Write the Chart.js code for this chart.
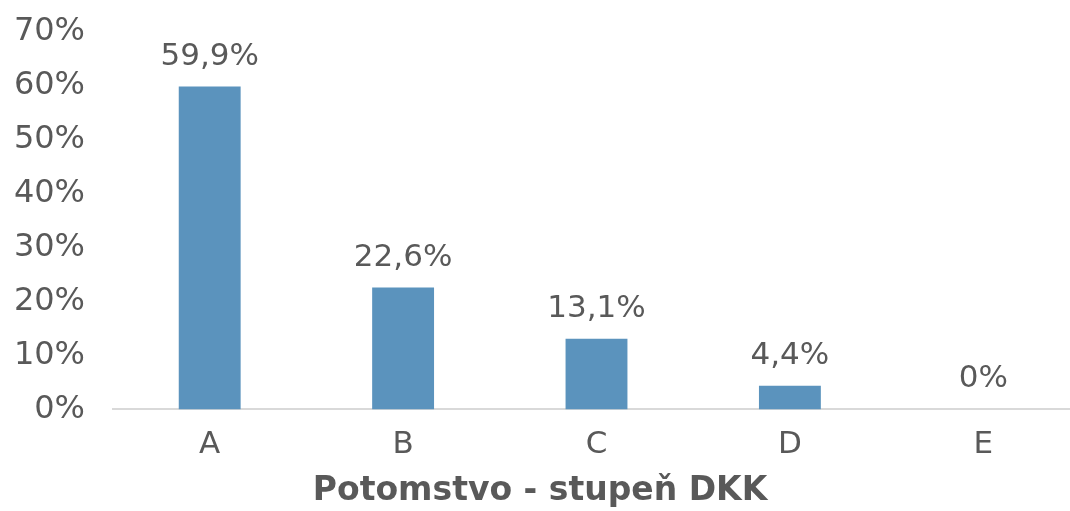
<!DOCTYPE html>
<html>
<head>
<meta charset="utf-8">
<script src="https://cdn.jsdelivr.net/npm/chart.js@4"></script>
<style>
  html, body { margin: 0; padding: 0; background: #fff; overflow: hidden; }
  #wrap { width: 1100px; height: 511px; }
</style>
</head>
<body>
<div id="wrap"><canvas id="dkkChart" width="1100" height="511"></canvas></div>
<script>
// Data
const categories = ['A', 'B', 'C', 'D', 'E'];
const shares = [59.9, 22.6, 13.1, 4.4, 0];
const yTicks = [0, 10, 20, 30, 40, 50, 60, 70];

const textColor = '#595959';
const fontFamily = "'DejaVu Sans', sans-serif";

// hodnoty nad sloupci
const valueLabels = {
  id: 'valueLabels',
  afterDatasetsDraw(chart) {
    const ctx = chart.ctx;
    const meta = chart.getDatasetMeta(0);
    ctx.save();
    ctx.font = '31px ' + fontFamily;
    ctx.fillStyle = textColor;
    ctx.textAlign = 'center';
    ctx.textBaseline = 'middle';
    meta.data.forEach((bar, i) => {
      const label = String(shares[i]).replace('.', ',') + '%';
      ctx.fillText(label, bar.x, bar.y - 30);
    });
    ctx.restore();
  }
};

const ctx = document.getElementById('dkkChart').getContext('2d');
new Chart(ctx, {
  type: 'bar',
  data: {
    labels: categories,
    datasets: [{
      data: shares,
      backgroundColor: '#5b93bd',
      barPercentage: 0.32,
      categoryPercentage: 1
    }]
  },
  options: {
    responsive: false,
    animation: false,
    layout: { padding: { top: 32, right: 20, bottom: 0, left: 0 } },
    plugins: {
      legend: { display: false },
      tooltip: { enabled: false },
      title: {
        display: true,
        position: 'bottom',
        text: 'Potomstvo - stupeň DKK',
        color: textColor,
        font: { family: fontFamily, size: 33, weight: 'bold' },
        padding: { top: 8, bottom: 0 }
      }
    },
    scales: {
      y: {
        min: 0,
        max: 70,
        afterFit: (scale) => {
          scale.width = 113;
          scale.paddingTop = 0;
          scale.paddingBottom = 0;
        },
        afterBuildTicks: (scale) => { scale.ticks = yTicks.map(v => ({ value: v })); },
        grid: { display: false, drawTicks: false },
        border: { display: false },
        ticks: {
          padding: 28,
          color: textColor,
          font: { family: fontFamily, size: 32 },
          callback: (v) => v + '%'
        }
      },
      x: {
        afterFit: (scale) => { scale.height = 54; },
        grid: { display: false, drawTicks: false },
        border: { display: true, color: '#d9d9d9', width: 2 },
        ticks: {
          padding: 17,
          color: textColor,
          font: { family: fontFamily, size: 31 }
        }
      }
    }
  },
  plugins: [valueLabels]
});
</script>
</body>
</html>
